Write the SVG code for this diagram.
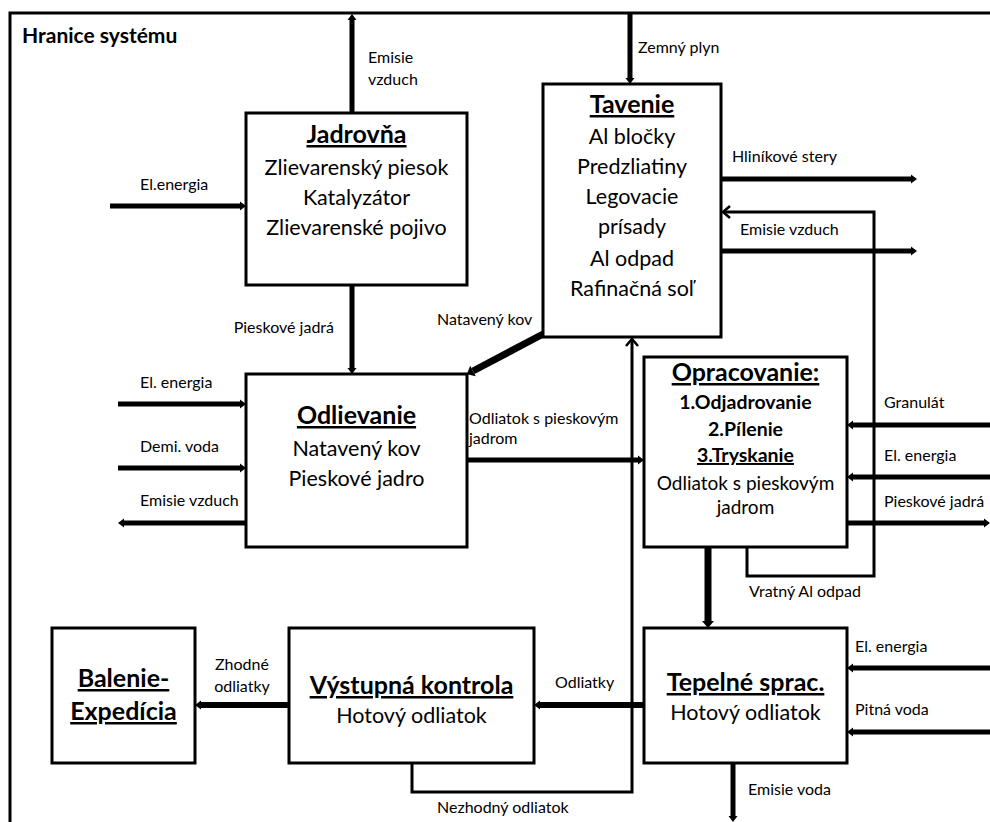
<svg xmlns="http://www.w3.org/2000/svg" width="990" height="822" viewBox="0 0 990 822">
<style>
  .box{fill:#fff;stroke:#000;stroke-width:3}
  .t{font-family:Lato,"Liberation Sans",sans-serif;fill:#000}
  .title{font-size:25px;font-weight:bold;text-decoration:underline;text-anchor:middle}
  .sub{font-size:19.5px;font-weight:bold;text-anchor:middle}
  .body{font-size:21.5px;text-anchor:middle}
  .body2{font-size:19px;text-anchor:middle}
  .lbl{font-size:16px}
  .thick{fill:none;stroke:#000;stroke-width:5;marker-end:url(#ah)}
  .heavy{fill:none;stroke:#000;stroke-width:7;marker-end:url(#ah2)}
  .thin{fill:none;stroke:#000;stroke-width:3;marker-end:url(#open)}
  .line{fill:none;stroke:#000;stroke-width:3}
</style>
<defs>
  <marker id="ah" markerUnits="userSpaceOnUse" markerWidth="12" markerHeight="12" viewBox="0 -6 8 12" refX="0" refY="0" orient="auto" overflow="visible">
    <path d="M0,-4.5 L6,0 L0,4.5 z" fill="#000"/>
  </marker>
  <marker id="ah2" markerUnits="userSpaceOnUse" markerWidth="14" markerHeight="14" viewBox="0 -7 8 14" refX="0" refY="0" orient="auto" overflow="visible">
    <path d="M0,-6 L7,0 L0,6 z" fill="#000"/>
  </marker>
  <marker id="open" markerUnits="userSpaceOnUse" markerWidth="14" markerHeight="14" viewBox="-8 -7 10 14" refX="0" refY="0" orient="auto" overflow="visible">
    <path d="M-7,-6 L0,0 L-7,6" fill="none" stroke="#000" stroke-width="2.5"/>
  </marker>
</defs>
<rect width="990" height="822" fill="#fff"/>

<g id="boundary">
  <path class="line" d="M10,822 V13 H990"/>
  <text class="t" x="22" y="43" font-size="21" font-weight="bold">Hranice systému</text>
</g>

<g id="connectors">
  <path class="thick" d="M352,113 V20"/>
  <path class="thick" d="M110,206 H240"/>
  <path class="thick" d="M352,285 V368"/>
  <path class="thick" d="M630,13 V78"/>
  <path class="thick" d="M721,179 H911"/>
  <path class="thick" d="M721,251 H911"/>
  <path class="thin" d="M747,547 V576 H874 V212 H723"/>
  <path class="heavy" d="M545,333 L473,371"/>
  <path class="thick" d="M118,404 H240"/>
  <path class="thick" d="M118,468 H240"/>
  <path class="thick" d="M246,523 H124"/>
  <path class="thick" d="M467,460 H638"/>
  <path class="thin" d="M412,763 V792 H632 V339"/>
  <path class="thick" d="M990,425 H853"/>
  <path class="thick" d="M990,477 H853"/>
  <path class="thick" d="M847,523 H984"/>
  <path class="heavy" d="M708,547 V621"/>
  <path class="thick" d="M644,705 H540" style="stroke-width:6"/>
  <path class="thick" d="M289,705 H201" style="stroke-width:6"/>
  <path class="thick" d="M990,668 H853"/>
  <path class="thick" d="M990,732 H853"/>
  <path class="thick" d="M733,763 V816"/>

  <g class="t lbl">
    <text x="368" y="63">Emisie</text>
    <text x="368" y="85">vzduch</text>
    <text x="140" y="190">El.energia</text>
    <text x="334" y="333" text-anchor="end">Pieskové jadrá</text>
    <text x="437" y="325">Natavený kov</text>
    <text x="638" y="53">Zemný plyn</text>
    <text x="732" y="162">Hliníkové stery</text>
    <text x="740" y="235">Emisie vzduch</text>
    <text x="140" y="388">El. energia</text>
    <text x="140" y="452">Demi. voda</text>
    <text x="140" y="506">Emisie vzduch</text>
    <text x="469" y="424">Odliatok s pieskovým</text>
    <text x="469" y="444">jadrom</text>
    <text x="749" y="597">Vratný Al odpad</text>
    <text x="884" y="408">Granulát</text>
    <text x="884" y="461">El. energia</text>
    <text x="884" y="507">Pieskové jadrá</text>
    <text x="242" y="670" text-anchor="middle">Zhodné</text>
    <text x="242" y="692" text-anchor="middle">odliatky</text>
    <text x="555" y="688">Odliatky</text>
    <text x="437" y="813">Nezhodný odliatok</text>
    <text x="855" y="652">El. energia</text>
    <text x="855" y="715">Pitná voda</text>
    <text x="748" y="795">Emisie voda</text>
  </g>
</g>

<g id="jadrovna">
  <rect class="box" x="246" y="113" width="221" height="172"/>
  <text class="t title" x="356.5" y="143">Jadrovňa</text>
  <text class="t body" x="356.5" y="175">Zlievarenský piesok</text>
  <text class="t body" x="356.5" y="205">Katalyzátor</text>
  <text class="t body" x="356.5" y="235">Zlievarenské pojivo</text>
</g>

<g id="tavenie">
  <rect class="box" x="543" y="84" width="178" height="253"/>
  <text class="t title" x="632" y="113">Tavenie</text>
  <text class="t body" x="632" y="144">Al bločky</text>
  <text class="t body" x="632" y="174">Predzliatiny</text>
  <text class="t body" x="632" y="204">Legovacie</text>
  <text class="t body" x="632" y="234">prísady</text>
  <text class="t body" x="632" y="266">Al odpad</text>
  <text class="t body" x="632" y="296">Rafinačná soľ</text>
</g>

<g id="odlievanie">
  <rect class="box" x="246" y="374" width="221" height="173"/>
  <text class="t title" x="356.5" y="424">Odlievanie</text>
  <text class="t body" x="356.5" y="456">Natavený kov</text>
  <text class="t body" x="356.5" y="486">Pieskové jadro</text>
</g>

<g id="opracovanie">
  <rect class="box" x="644" y="357" width="203" height="190"/>
  <text class="t title" x="745.5" y="381">Opracovanie:</text>
  <text class="t sub" x="745.5" y="409">1.Odjadrovanie</text>
  <text class="t sub" x="745.5" y="436">2.Pílenie</text>
  <text class="t sub" x="745.5" y="462" text-decoration="underline">3.Tryskanie</text>
  <text class="t body2" x="745.5" y="490">Odliatok s pieskovým</text>
  <text class="t body2" x="745.5" y="514">jadrom</text>
</g>

<g id="balenie">
  <rect class="box" x="52" y="628" width="143" height="135"/>
  <text class="t title" x="123.5" y="687" font-size="26">Balenie-</text>
  <text class="t title" x="123.5" y="720">Expedícia</text>
</g>

<g id="vystupna">
  <rect class="box" x="289" y="628" width="245" height="135"/>
  <text class="t title" x="411.5" y="694">Výstupná kontrola</text>
  <text class="t body" x="411.5" y="723">Hotový odliatok</text>
</g>

<g id="tepelne">
  <rect class="box" x="644" y="628" width="203" height="135"/>
  <text class="t title" x="745.5" y="691">Tepelné sprac.</text>
  <text class="t body" x="745.5" y="720">Hotový odliatok</text>
</g>
</svg>
